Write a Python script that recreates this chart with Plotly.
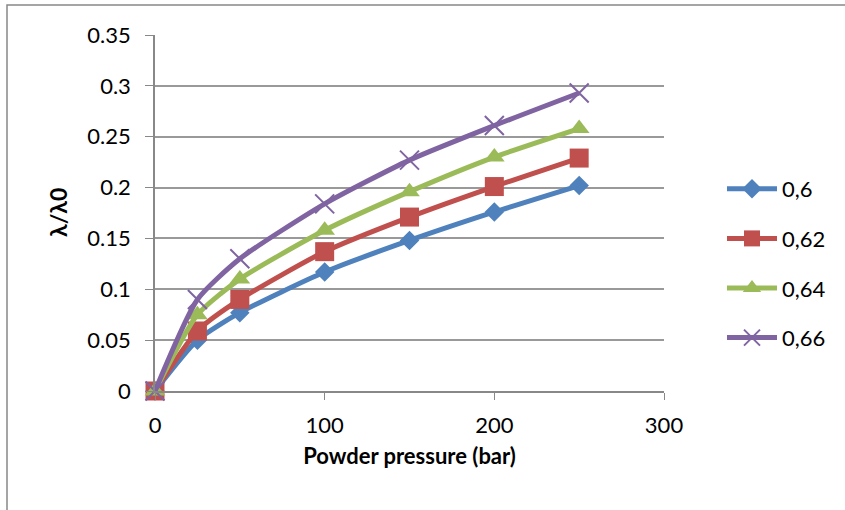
import plotly.graph_objects as go

pressure = [0, 25, 50, 100, 150, 200, 250]
series_names = ["0,6", "0,62", "0,64", "0,66"]
s060 = [0, 0.050, 0.077, 0.117, 0.148, 0.176, 0.202]
s062 = [0, 0.059, 0.090, 0.137, 0.171, 0.201, 0.229]
s064 = [0, 0.075, 0.110, 0.158, 0.196, 0.230, 0.258]
s066 = [0, 0.090, 0.130, 0.184, 0.227, 0.261, 0.293]
values = [s060, s062, s064, s066]
colors = ["#4F81BD", "#C0504D", "#9BBB59", "#8064A2"]
symbols = ["diamond", "square", "triangle-up", "x-thin"]
sizes = [15, 19, 18, 19]
y_ticks = [0, 0.05, 0.1, 0.15, 0.2, 0.25, 0.3, 0.35]
x_ticks = [0, 100, 200, 300]

font_family = "Lato, 'Open Sans', sans-serif"

fig = go.Figure()
for i, (name, ys, c, sym, sz) in enumerate(zip(series_names, values, colors, symbols, sizes)):
    marker = dict(symbol=sym, size=sz, color=c)
    if sym == "x-thin":
        marker["line"] = dict(color=c, width=2)
    fig.add_trace(go.Scatter(
        x=pressure, y=ys, name=name, mode="lines+markers", legendgroup=f"g{i}",
        line=dict(color=c, width=5, shape="spline", smoothing=0.6),
        marker=marker, cliponaxis=False,
    ))

W, H = 845, 510
L, R, T, B = 155, 181, 35, 119
pw, ph = W - L - R, H - T - B

fig.update_layout(
    width=W, height=H,
    margin=dict(l=L, r=R, t=T, b=B),
    paper_bgcolor="white", plot_bgcolor="white",
    font=dict(family=font_family, size=22, color="#000"),
    showlegend=True,
    legend=dict(x=(722 - L) / pw, y=(391 - 168) / ph, xanchor="left", yanchor="top",
                font=dict(size=22), tracegroupgap=18, itemwidth=50,
                bgcolor="rgba(0,0,0,0)"),
    xaxis=dict(range=[0, 300], tickvals=x_ticks, showgrid=False,
               showline=True, linecolor="#888", linewidth=1.5,
               ticks="outside", ticklen=7, tickcolor="#888",
               ticklabelstandoff=7, zeroline=False,
               title=dict(text="<b>Powder pressure (bar)</b>", font=dict(size=22), standoff=11)),
    yaxis=dict(range=[0, 0.35], tickvals=y_ticks, showgrid=True,
               gridcolor="#999", gridwidth=1.5,
               showline=True, linecolor="#888", linewidth=1.5,
               ticks="outside", ticklen=8, tickcolor="#888",
               ticklabelstandoff=10, zeroline=False),
    annotations=[dict(text="<b>λ/λ0</b>", xref="paper", yref="paper",
                      x=(58 - L) / pw, y=(391 - 213) / ph, xanchor="center", yanchor="middle",
                      textangle=-90, showarrow=False, font=dict(size=23))],
    shapes=[dict(type="rect", xref="paper", yref="paper",
                 x0=(7 - L) / pw, x1=(W + 20 - L) / pw,
                 y0=(391 - (H + 20)) / ph, y1=(391 - 5) / ph,
                 line=dict(color="#888", width=1.5), fillcolor="rgba(0,0,0,0)",
                 layer="below")],
)

fig.write_html("out.html")
